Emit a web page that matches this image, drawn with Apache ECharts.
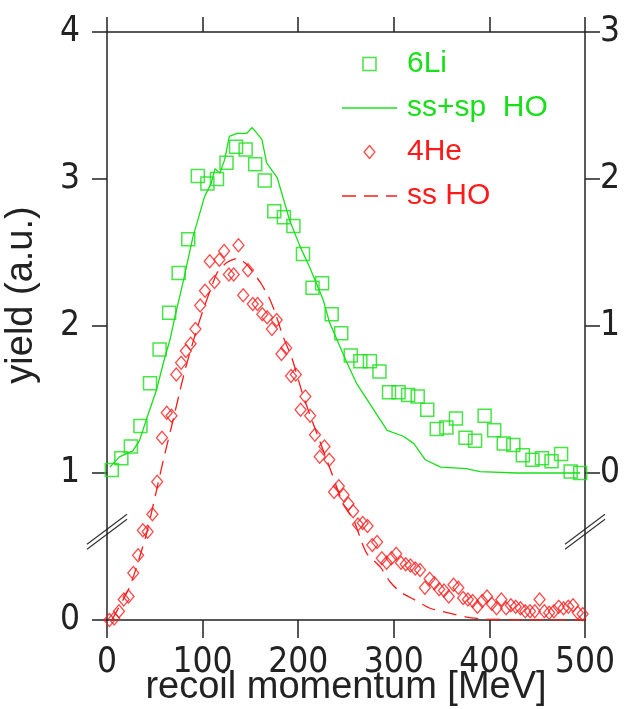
<!DOCTYPE html>
<html>
<head>
<meta charset="utf-8">
<script src="https://cdn.jsdelivr.net/npm/echarts@6/dist/echarts.min.js"></script>
<style>
  html, body { margin: 0; padding: 0; background: #fff; }
  #chart { width: 633px; height: 709px; }
</style>
</head>
<body>
<div id="chart"></div>
<script>
// 6Li data (right axis scale, yield offset so that right 0 = left 1)
const liX = [5, 15, 25, 35, 45, 55, 65, 75, 85, 95, 105, 115, 125, 135, 145, 155, 165, 175, 185, 195,
  205, 215, 225, 235, 245, 255, 265, 275, 285, 295, 305, 315, 325, 335, 345, 355, 365, 375, 385, 395,
  405, 415, 425, 435, 445, 455, 465, 475, 485, 495];
const liY = [0.02, 0.10, 0.18, 0.32, 0.61, 0.84, 1.09, 1.36, 1.59, 2.02, 1.97, 2.00, 2.11, 2.22, 2.20, 2.10, 1.99, 1.78, 1.74, 1.68,
  1.49, 1.26, 1.29, 1.08, 0.95, 0.80, 0.76, 0.76, 0.69, 0.55, 0.55, 0.53, 0.52, 0.43, 0.30, 0.31, 0.37, 0.24, 0.22, 0.39,
  0.29, 0.20, 0.19, 0.12, 0.09, 0.10, 0.08, 0.13, 0.01, 0.00];

// ss+sp HO curve (right axis scale)
const liCurveX = [3, 13, 27, 34, 41, 52, 59, 66, 71, 80, 90, 95, 102, 109, 113, 118, 123, 128, 136, 146, 152, 162, 167, 178,
  191, 202, 212, 226, 233, 251, 261, 275, 293, 310, 321, 333, 349, 376, 390, 429, 495];
const liCurveY = [0.04, 0.11, 0.15, 0.22, 0.36, 0.57, 0.75, 0.91, 1.06, 1.31, 1.61, 1.72, 1.88, 1.97, 2.07, 2.04, 2.13, 2.29, 2.31, 2.31, 2.35, 2.27, 2.11, 2.01,
  1.72, 1.54, 1.40, 1.18, 1.02, 0.75, 0.61, 0.47, 0.29, 0.25, 0.20, 0.09, 0.04, 0.03, 0.01, 0.00, 0.00];

// 4He data (left axis scale)
const heX = [2.5, 7.5, 12.5, 17.5, 22.5, 27.5, 32.5, 37.5, 42.5, 47.5, 52.5, 57.5, 62.5, 67.5, 72.5, 77.5, 82.5, 87.5, 92.5, 97.5,
  102.5, 107.5, 112.5, 117.5, 122.5, 127.5, 132.5, 137.5, 142.5, 147.5, 152.5, 157.5, 162.5, 167.5, 172.5, 177.5, 182.5, 187.5, 192.5, 197.5,
  202.5, 207.5, 212.5, 217.5, 222.5, 227.5, 232.5, 237.5, 242.5, 247.5, 252.5, 257.5, 262.5, 267.5, 272.5, 277.5, 282.5, 287.5, 292.5, 297.5,
  302.5, 307.5, 312.5, 317.5, 322.5, 327.5, 332.5, 337.5, 342.5, 347.5, 352.5, 357.5, 362.5, 367.5, 372.5, 377.5, 382.5, 387.5, 392.5, 397.5,
  402.5, 407.5, 412.5, 417.5, 422.5, 427.5, 432.5, 437.5, 442.5, 447.5, 452.5, 457.5, 462.5, 467.5, 472.5, 477.5, 482.5, 487.5, 492.5, 497.5];
const heY = [0.00, 0.01, 0.06, 0.14, 0.16, 0.32, 0.44, 0.61, 0.60, 0.72, 0.94, 1.24, 1.41, 1.39, 1.67, 1.75, 1.83, 1.88, 1.98, 2.14,
  2.24, 2.44, 2.30, 2.45, 2.51, 2.35, 2.35, 2.55, 2.21, 2.38, 2.15, 2.15, 2.08, 2.06, 1.98, 2.04, 1.81, 1.85, 1.66, 1.67,
  1.43, 1.52, 1.39, 1.26, 1.11, 1.18, 1.09, 0.87, 0.91, 0.85, 0.79, 0.74, 0.65, 0.66, 0.64, 0.51, 0.53, 0.42, 0.39, 0.42,
  0.45, 0.39, 0.38, 0.37, 0.35, 0.34, 0.22, 0.28, 0.25, 0.21, 0.20, 0.16, 0.24, 0.22, 0.15, 0.14, 0.13, 0.09, 0.13, 0.16,
  0.11, 0.08, 0.14, 0.08, 0.10, 0.09, 0.08, 0.06, 0.06, 0.06, 0.14, 0.06, 0.05, 0.06, 0.09, 0.08, 0.09, 0.10, 0.05, 0.04];

// ss HO curve (left axis scale)
const heCurveX = [5, 24, 41, 59, 68, 76, 82, 89, 97, 115, 125, 136, 146, 160, 169, 176, 184, 193, 204, 212, 216,
  235, 247, 258, 267, 272, 286, 296, 307, 321, 338, 356, 376, 397, 500];
const heCurveY = [0.00, 0.23, 0.58, 1.09, 1.33, 1.55, 1.71, 1.87, 2.04, 2.36, 2.43, 2.46, 2.42, 2.30, 2.20, 2.09, 1.93, 1.79, 1.55, 1.40, 1.33,
  1.00, 0.79, 0.68, 0.52, 0.45, 0.36, 0.26, 0.19, 0.14, 0.08, 0.05, 0.02, 0.005, 0.00];

const xTicks = [0, 100, 200, 300, 400, 500];
const leftTicks = [0, 1, 2, 3, 4];
const rightTicks = [0, 1, 2, 3];

const GREEN = '#18e018';
const RED = '#ff1a1a';
const AXIS = '#222';
const numFont = '"Liberation Sans Narrow", "DejaVu Sans Condensed", "Liberation Sans", sans-serif';
const textFont = '"Liberation Sans", "DejaVu Sans", sans-serif';

// legend icons as paths (kept to aspect)
const squareIcon = 'path://M0,0H10V10H0Z';
const diamondIcon = 'path://M5,0L10,6L5,12L0,6Z';
const solidIcon = 'path://M0,0H55V1.3H0Z';
const dashIcon = 'path://M0,0H14V1.3H0Z M22,0H36V1.3H22Z M44,0H55V1.3H44Z';

const pairs = (xs, ys) => xs.map((x, i) => [x, ys[i]]);

const chart = echarts.init(document.getElementById('chart'), null, { renderer: 'canvas' });

const option = {
  backgroundColor: '#fff',
  animation: false,
  grid: { left: 107, right: 48, top: 32, bottom: 89, outerBoundsMode: 'none', containLabel: false },
  legend: {
    orient: 'vertical',
    left: 337,
    top: 44,
    itemWidth: 55,
    itemHeight: 13,
    itemGap: 14,
    symbolKeepAspect: true,
    textStyle: { fontFamily: textFont, fontSize: 30, padding: [0, 0, 0, 5] },
    data: [
      { name: '6Li', icon: squareIcon, itemStyle: { color: 'transparent', borderColor: GREEN, borderWidth: 1.5 }, textStyle: { color: GREEN } },
      { name: 'ss+sp  HO', icon: solidIcon, itemStyle: { color: GREEN, borderWidth: 0 }, textStyle: { color: GREEN } },
      { name: '4He', icon: diamondIcon, itemStyle: { color: 'transparent', borderColor: RED, borderWidth: 1.3 }, textStyle: { color: RED } },
      { name: 'ss HO', icon: dashIcon, itemStyle: { color: RED, borderWidth: 0 }, textStyle: { color: RED } }
    ]
  },
  xAxis: [
    {
      type: 'value', position: 'bottom', min: 0, max: 500, interval: 100,
      name: 'recoil momentum [MeV]', nameLocation: 'middle', nameGap: 49, nameMoveOverlap: false,
      nameTextStyle: { fontFamily: textFont, fontSize: 38, color: AXIS },
      axisLine: { onZero: false, lineStyle: { color: AXIS, width: 1.5 } },
      axisTick: { inside: false, length: 18, lineStyle: { color: AXIS, width: 1.5 }, customValues: xTicks },
      axisLabel: { margin: 25, fontFamily: numFont, fontSize: 35, color: AXIS, customValues: xTicks },
      splitLine: { show: false }
    },
    {
      type: 'value', position: 'top', min: 0, max: 500, interval: 100,
      axisLine: { onZero: false, lineStyle: { color: AXIS, width: 1.5 } },
      axisTick: { inside: false, length: 15, lineStyle: { color: AXIS, width: 1.5 } },
      axisLabel: { show: false },
      splitLine: { show: false }
    }
  ],
  yAxis: [
    {
      type: 'value', position: 'left', min: 0, max: 4, interval: 1,
      name: 'yield (a.u.)', nameLocation: 'middle', nameGap: 66, nameRotate: 90, nameMoveOverlap: false,
      nameTextStyle: { fontFamily: textFont, fontSize: 38, color: AXIS, padding: [0, 0, 0, 62] },
      axisLine: { show: true, onZero: false, lineStyle: { color: AXIS, width: 1.5 } },
      axisTick: { show: true, inside: false, length: 15, lineStyle: { color: AXIS, width: 1.5 }, customValues: leftTicks },
      axisLabel: { margin: 27, fontFamily: numFont, fontSize: 35, color: AXIS, customValues: leftTicks },
      splitLine: { show: false }
    },
    {
      type: 'value', position: 'right', min: -1, max: 3, interval: 1,
      axisLine: { show: true, onZero: false, lineStyle: { color: AXIS, width: 1.5 } },
      axisTick: { show: true, inside: false, length: 15, lineStyle: { color: AXIS, width: 1.5 }, customValues: rightTicks },
      axisLabel: { margin: 15, fontFamily: numFont, fontSize: 35, color: AXIS, customValues: rightTicks },
      splitLine: { show: false }
    }
  ],
  series: [
    {
      name: 'ss+sp  HO', type: 'line', yAxisIndex: 1, symbol: 'none', smooth: false,
      lineStyle: { color: GREEN, width: 1.3 }, itemStyle: { color: GREEN },
      data: pairs(liCurveX, liCurveY), z: 2
    },
    {
      name: 'ss HO', type: 'line', yAxisIndex: 0, symbol: 'none', smooth: 0.2,
      lineStyle: { color: RED, width: 1.3, type: [14, 8] }, itemStyle: { color: RED },
      data: pairs(heCurveX, heCurveY), z: 2
    },
    {
      name: '6Li', type: 'scatter', yAxisIndex: 1, symbol: 'rect', symbolSize: 13,
      itemStyle: { color: 'transparent', borderColor: GREEN, borderWidth: 1.5 },
      data: pairs(liX, liY), z: 3
    },
    {
      name: '4He', type: 'scatter', yAxisIndex: 0, symbol: 'diamond', symbolSize: [11, 13],
      itemStyle: { color: 'transparent', borderColor: RED, borderWidth: 1.3 },
      data: pairs(heX, heY), z: 3
    }
  ]
};

chart.setOption(option);

// axis break marks (double slashes) on both y axes
const breakAt = 0.6;
const pL = chart.convertToPixel({ xAxisIndex: 0, yAxisIndex: 0 }, [0, breakAt]);
const pR = chart.convertToPixel({ xAxisIndex: 0, yAxisIndex: 0 }, [500, breakAt]);
const slash = (c, dy) => ({
  type: 'line', silent: true,
  shape: { x1: c[0] - 20, y1: c[1] + 15 + dy, x2: c[0] + 20, y2: c[1] - 15 + dy },
  style: { stroke: '#333', lineWidth: 1.2 }
});
chart.setOption({
  graphic: [slash(pL, -2.5), slash(pL, 2.5), slash(pR, -2.5), slash(pR, 2.5)]
});
</script>
</body>
</html>
